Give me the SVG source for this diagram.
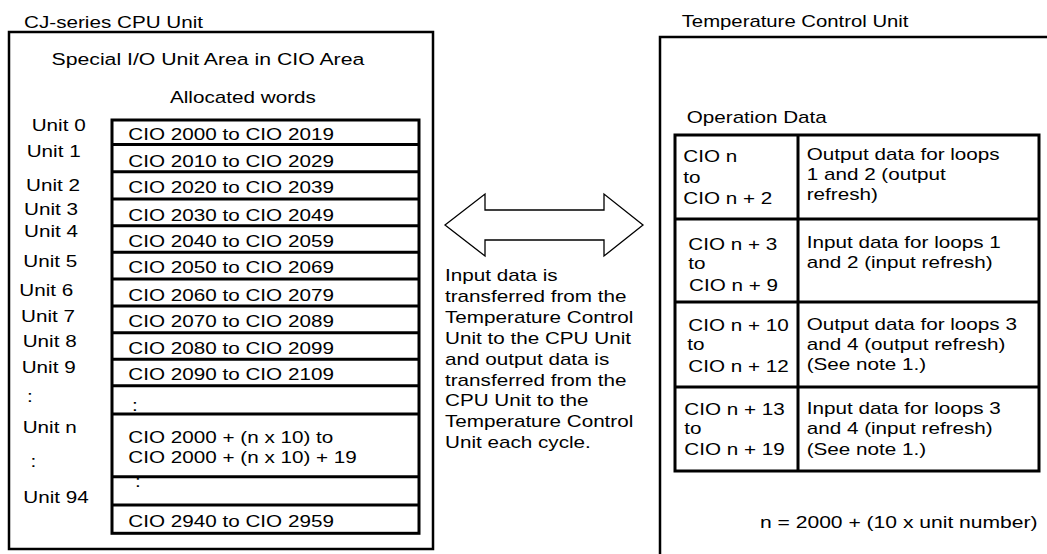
<svg xmlns="http://www.w3.org/2000/svg" width="1047" height="554" viewBox="0 0 1047 554">
<style>
text{font-family:"Liberation Sans",Arial,Helvetica,sans-serif;font-size:16.8px;fill:#000}
.box{fill:#fff;stroke:#000;stroke-width:2.5}
.tbl{fill:none;stroke:#000;stroke-width:3}
.sep{stroke:#000;stroke-width:3}
.arrow{fill:#fff;stroke:#000;stroke-width:1.3;stroke-linejoin:miter}
</style>
<rect width="1047" height="554" fill="#fff"/>

<g id="cpu-unit">
<text transform="translate(24 28) scale(1.23 1)">CJ-series CPU Unit</text>
<rect class="box" x="9" y="32" width="424" height="517"/>
<text transform="translate(51.5 65) scale(1.265 1)">Special I/O Unit Area in CIO Area</text>
<text transform="translate(170 103) scale(1.23 1)">Allocated words</text>
</g>

<g id="unit-labels">
<text transform="translate(31.7 130.7) scale(1.23 1)">Unit 0</text>
<text transform="translate(26.7 156.7) scale(1.23 1)">Unit 1</text>
<text transform="translate(26 190.7) scale(1.23 1)">Unit 2</text>
<text transform="translate(24 215) scale(1.23 1)">Unit 3</text>
<text transform="translate(24 236.7) scale(1.23 1)">Unit 4</text>
<text transform="translate(23.3 266.7) scale(1.23 1)">Unit 5</text>
<text transform="translate(19.3 296) scale(1.23 1)">Unit 6</text>
<text transform="translate(21 321.7) scale(1.23 1)">Unit 7</text>
<text transform="translate(22.7 347.3) scale(1.23 1)">Unit 8</text>
<text transform="translate(21.7 373.3) scale(1.23 1)">Unit 9</text>
<text transform="translate(27 401.7) scale(1.23 1)">:</text>
<text transform="translate(22.7 433.3) scale(1.23 1)">Unit n</text>
<text transform="translate(30.5 466.7) scale(1.23 1)">:</text>
<text transform="translate(23.3 503.3) scale(1.23 1)">Unit 94</text>
</g>

<g id="allocated-words-table">
<rect class="tbl" x="112" y="120" width="307" height="413.3"/>
<line class="sep" x1="112" y1="144.5" x2="419" y2="144.5"/>
<line class="sep" x1="112" y1="171.7" x2="419" y2="171.7"/>
<line class="sep" x1="112" y1="199" x2="419" y2="199"/>
<line class="sep" x1="112" y1="225.7" x2="419" y2="225.7"/>
<line class="sep" x1="112" y1="252.3" x2="419" y2="252.3"/>
<line class="sep" x1="112" y1="279" x2="419" y2="279"/>
<line class="sep" x1="112" y1="306" x2="419" y2="306"/>
<line class="sep" x1="112" y1="332.7" x2="419" y2="332.7"/>
<line class="sep" x1="112" y1="359.3" x2="419" y2="359.3"/>
<line class="sep" x1="112" y1="385.7" x2="419" y2="385.7"/>
<line class="sep" x1="112" y1="414" x2="419" y2="414"/>
<line class="sep" x1="112" y1="476.7" x2="419" y2="476.7"/>
<line class="sep" x1="112" y1="505" x2="419" y2="505"/>
<text transform="translate(128.3 140) scale(1.23 1)">CIO 2000 to CIO 2019</text>
<text transform="translate(128.3 166.7) scale(1.23 1)">CIO 2010 to CIO 2029</text>
<text transform="translate(128.3 193) scale(1.23 1)">CIO 2020 to CIO 2039</text>
<text transform="translate(128.3 220.7) scale(1.23 1)">CIO 2030 to CIO 2049</text>
<text transform="translate(128.3 247.3) scale(1.23 1)">CIO 2040 to CIO 2059</text>
<text transform="translate(128.3 273.3) scale(1.23 1)">CIO 2050 to CIO 2069</text>
<text transform="translate(128.3 300.7) scale(1.23 1)">CIO 2060 to CIO 2079</text>
<text transform="translate(128.3 327.3) scale(1.23 1)">CIO 2070 to CIO 2089</text>
<text transform="translate(128.3 354.3) scale(1.23 1)">CIO 2080 to CIO 2099</text>
<text transform="translate(128.3 380.3) scale(1.23 1)">CIO 2090 to CIO 2109</text>
<text transform="translate(132 411) scale(1.23 1)">:</text>
<text transform="translate(128.3 442.7) scale(1.23 1)">CIO 2000 + (n x 10) to</text>
<text transform="translate(128.3 463.3) scale(1.23 1)">CIO 2000 + (n x 10) + 19</text>
<text transform="translate(135 486.7) scale(1.23 1)">:</text>
<text transform="translate(128.3 526.7) scale(1.23 1)">CIO 2940 to CIO 2959</text>
</g>

<g id="connectors">
<polygon class="arrow" points="445,225 485,194 485,210 604,210 604,194 643,225 604,256 604,240 485,240 485,256"/>
</g>

<g id="transfer-note">
<text transform="translate(445 280.7) scale(1.23 1)">Input data is</text>
<text transform="translate(445 301.7) scale(1.23 1)">transferred from the</text>
<text transform="translate(445 322.6) scale(1.23 1)">Temperature Control</text>
<text transform="translate(445 343.6) scale(1.23 1)">Unit to the CPU Unit</text>
<text transform="translate(445 364.5) scale(1.23 1)">and output data is</text>
<text transform="translate(445 385.5) scale(1.23 1)">transferred from the</text>
<text transform="translate(445 406.4) scale(1.23 1)">CPU Unit to the</text>
<text transform="translate(445 427.4) scale(1.23 1)">Temperature Control</text>
<text transform="translate(445 448.3) scale(1.23 1)">Unit each cycle.</text>
</g>

<g id="temperature-control-unit">
<text transform="translate(681.7 27) scale(1.21 1)">Temperature Control Unit</text>
<rect class="box" x="660" y="37" width="420" height="540"/>
<text transform="translate(686.7 123.3) scale(1.23 1)">Operation Data</text>
<text transform="translate(760 527.7) scale(1.255 1)">n = 2000 + (10 x unit number)</text>
</g>

<g id="operation-data-table">
<rect class="tbl" x="675" y="135" width="364" height="336"/>
<line class="sep" x1="798" y1="135" x2="798" y2="471"/>
<line class="sep" x1="675" y1="219" x2="1039" y2="219"/>
<line class="sep" x1="675" y1="302" x2="1039" y2="302"/>
<line class="sep" x1="675" y1="387" x2="1039" y2="387"/>
<text transform="translate(683.3 161.7) scale(1.23 1)">CIO n</text>
<text transform="translate(683.3 182.7) scale(1.23 1)">to</text>
<text transform="translate(683.3 204) scale(1.23 1)">CIO n + 2</text>
<text transform="translate(806.7 160) scale(1.23 1)">Output data for loops</text>
<text transform="translate(806.7 180) scale(1.23 1)">1 and 2 (output</text>
<text transform="translate(806.7 200) scale(1.23 1)">refresh)</text>
<text transform="translate(688.3 250) scale(1.23 1)">CIO n + 3</text>
<text transform="translate(688.3 269.3) scale(1.23 1)">to</text>
<text transform="translate(689 290.7) scale(1.23 1)">CIO n + 9</text>
<text transform="translate(806.7 247.7) scale(1.23 1)">Input data for loops 1</text>
<text transform="translate(806.7 267.7) scale(1.23 1)">and 2 (input refresh)</text>
<text transform="translate(688.3 331) scale(1.23 1)">CIO n + 10</text>
<text transform="translate(687.3 350) scale(1.23 1)">to</text>
<text transform="translate(688.3 372.3) scale(1.23 1)">CIO n + 12</text>
<text transform="translate(806.7 330) scale(1.23 1)">Output data for loops 3</text>
<text transform="translate(806.7 350) scale(1.23 1)">and 4 (output refresh)</text>
<text transform="translate(806.7 370) scale(1.23 1)">(See note 1.)</text>
<text transform="translate(684.3 415) scale(1.23 1)">CIO n + 13</text>
<text transform="translate(684.3 434.3) scale(1.23 1)">to</text>
<text transform="translate(684.3 455) scale(1.23 1)">CIO n + 19</text>
<text transform="translate(806.7 414.3) scale(1.23 1)">Input data for loops 3</text>
<text transform="translate(806.7 434.3) scale(1.23 1)">and 4 (input refresh)</text>
<text transform="translate(806.7 455) scale(1.23 1)">(See note 1.)</text>
</g>
</svg>
